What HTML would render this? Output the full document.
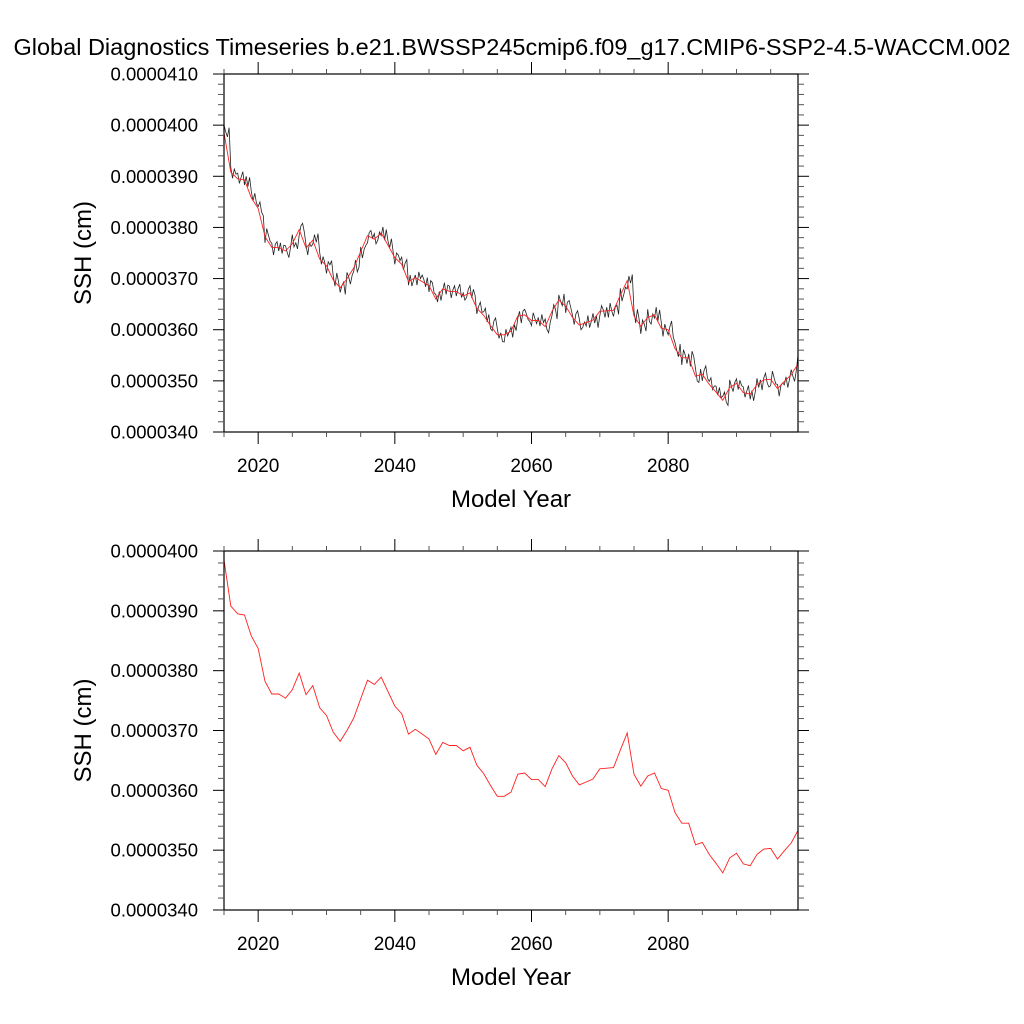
<!DOCTYPE html>
<html><head><meta charset="utf-8">
<style>
html,body{margin:0;padding:0;background:#fff;}
svg{display:block;font-family:"Liberation Sans",Arial,sans-serif;}
</style></head>
<body>
<svg id="chart" width="1024" height="1024" viewBox="0 0 1024 1024">
<text x="512" y="55" font-size="23.5" text-anchor="middle">Global Diagnostics Timeseries b.e21.BWSSP245cmip6.f09_g17.CMIP6-SSP2-4.5-WACCM.002</text>
<g id="top"></g>
<g id="bot"></g>
</svg>
<script>
// Annual mean SSH values (units of 1e-7 cm), years 2015..2099
const years = [];
for (let y = 2015; y <= 2099; y++) years.push(y);
const annualSSH = [398.5,390.8,389.5,389.3,385.8,383.7,378.2,376.1,376.1,375.4,376.8,379.6,376.0,377.5,373.8,372.5,369.7,368.2,370.0,372.1,375.3,378.4,377.7,378.9,376.5,374.1,372.8,369.4,370.2,369.4,368.6,366.0,368.0,367.5,367.5,366.6,367.2,364.2,362.8,360.8,359.0,359.0,359.7,362.7,362.9,361.8,361.8,360.6,363.6,365.8,364.6,362.4,360.9,361.4,361.9,363.6,363.7,363.8,366.7,369.6,362.7,360.7,362.4,362.9,360.3,360.0,356.3,354.5,354.5,350.9,351.3,349.3,347.8,346.2,348.7,349.5,347.7,347.4,349.3,350.2,350.3,348.5,349.9,351.2,353.3];
// Quarterly deviations from the annual mean (units of 1e-7), estimated
const quarterDev = [
1.5,0.2,-0.8,1.0, 0.9,-1.2,0.6,-0.4, 1.1,-0.9,0.3,1.4, -1.0,0.7,-1.3,0.5, 1.2,-0.6,0.9,-1.1, 0.4,1.3,-0.7,-1.4,
-1.2,1.6,0.3,-0.9, 0.8,-1.5,0.6,1.1, -0.7,0.9,-1.2,0.4, 1.0,-0.3,-1.3,0.8, 1.8,-0.6,0.2,-1.0, -1.1,0.7,1.2,-0.5,
0.6,-1.4,0.9,0.3, -0.8,1.1,-0.4,1.3, 1.3,-1.0,0.5,-0.7, -1.5,0.8,0.2,1.0, 0.7,-1.2,1.4,-0.3, -0.9,0.4,1.1,-1.3,
1.2,0.3,-1.1,0.6, -0.6,1.5,-0.8,0.1, 0.9,-1.3,0.4,1.2, -1.4,0.6,1.0,-0.5, 1.1,-0.9,-0.2,1.4, -0.5,1.2,-1.4,0.7,
0.8,-0.4,1.3,-1.2, -1.3,0.9,0.5,-0.6, 1.4,-1.1,0.2,0.9, -0.7,1.3,-0.9,0.3, 0.5,-1.5,1.1,-0.2, 1.3,0.4,-1.0,0.8,
-1.2,1.0,0.6,-1.4, 0.9,-0.6,1.5,-0.3, -0.4,1.2,-1.1,0.7, 1.0,-1.3,0.3,1.1, -0.9,0.5,1.4,-1.2, 0.6,-0.8,-0.3,1.3,
1.4,-1.0,0.7,-0.5, -1.1,0.3,1.2,-0.8, 0.7,1.4,-1.3,0.2, -0.6,-1.0,0.9,1.5, 1.2,-0.7,0.4,-1.3, -1.4,1.1,-0.2,0.6,
0.8,-1.2,1.3,0.1, -0.5,0.9,-1.4,1.0, 1.1,0.2,-0.9,-1.3, -1.0,1.5,0.4,-0.6, 0.6,-1.1,1.2,-0.4, 1.5,-0.5,-1.2,0.9,
-0.8,1.3,0.5,-1.5, 1.0,-0.2,-1.1,1.2, -1.3,0.8,1.1,-0.3, 0.4,-1.4,0.7,1.3, 1.2,-0.9,-0.4,0.6, -0.7,1.4,-1.0,0.2,
1.3,-0.6,0.8,-1.5, -0.9,1.1,0.3,-1.2, 0.7,-1.3,1.5,-0.1, -1.2,0.6,1.0,-0.8, 1.4,-1.1,0.2,1.6, -1.6,0.9,-0.5,1.2,
0.9,-1.4,1.3,-0.6, -1.5,1.2,0.4,-1.0, 1.6,-0.8,-1.3,0.7, -0.6,1.5,-1.2,1.0, 1.1,-1.6,0.8,-0.4, -1.0,0.6,1.7,-1.5,
1.2,-0.3,-1.6,0.9, -1.4,1.6,0.5,-1.1, 0.8,-1.7,1.3,0.2, 1.5,-0.9,-1.2,1.4, -1.3,0.7,1.6,-0.8, 0.6,1.3,-1.0,-0.3,
1.2,-0.6,0.9,-1.1, 0.8,1.6,-0.4,-1.0
];
const topTicks = [340,350,360,370,380,390,400,410];
const topTickLabels = ["0.0000340","0.0000350","0.0000360","0.0000370","0.0000380","0.0000390","0.0000400","0.0000410"];
const botTicks = [340,350,360,370,380,390,400];
const botTickLabels = ["0.0000340","0.0000350","0.0000360","0.0000370","0.0000380","0.0000390","0.0000400"];
const xTicks = [2020,2040,2060,2080];
const xTickLabels = ["2020","2040","2060","2080"];

const NS = "http://www.w3.org/2000/svg";
function mk(parent, tag, attrs){
  const e = document.createElementNS(NS, tag);
  for (const k in attrs) e.setAttribute(k, attrs[k]);
  parent.appendChild(e);
  return e;
}
const X0 = 224, X1 = 798, T0 = 2015, T1 = 2099;
function xs(t){ return X0 + (t - T0) / (T1 - T0) * (X1 - X0); }

function panel(g, top, bottom, ymin, ymax, ticks, labels, drawBlack){
  const ys = v => bottom - (v - ymin) / (ymax - ymin) * (bottom - top);
  if (drawBlack){
    let d = "";
    for (let i = 0; i < annualSSH.length; i++){
      for (let q = 0; q < 4; q++){
        const t = Math.min(years[i] + q * 0.25, T1);
        const v = annualSSH[i] + quarterDev[(i*4+q) % quarterDev.length];
        d += (d ? "L" : "M") + xs(t).toFixed(1) + "," + ys(v).toFixed(1);
      }
    }
    const bl = mk(g, "path", {d: d, fill: "none", stroke: "#222", "stroke-width": 0.8});
    
    
  }
  let d2 = "";
  for (let i = 0; i < annualSSH.length; i++)
    d2 += (i ? "L" : "M") + xs(years[i]).toFixed(1) + "," + ys(annualSSH[i]).toFixed(1);
  const rl = mk(g, "path", {d: d2, fill: "none", stroke: "#ff2020", "stroke-width": 0.9});
  
  
  const fr = mk(g, "rect", {x: X0, y: top, width: X1 - X0, height: bottom - top, fill: "none", stroke: "#000", "stroke-width": 1.2});
  
  
  for (let v = ymin; v <= ymax + 0.01; v += 2){
    const major = Math.abs((v - ymin) % 10) < 0.01;
    const L = major ? 11 : 6;
    const y = ys(v);
    mk(g, "line", {x1: X0 - L, x2: X0, y1: y, y2: y, stroke: major ? "#000" : "#555", "stroke-width": 1});
    mk(g, "line", {x1: X1, x2: X1 + L, y1: y, y2: y, stroke: major ? "#000" : "#555", "stroke-width": 1});
  }
  for (let i = 0; i < ticks.length; i++){
    const t = mk(g, "text", {x: 198, y: ys(ticks[i]) + 6.5, "font-size": 18.5, "text-anchor": "end"});
    t.textContent = labels[i];
    
    
  }
  for (let yr = 2015; yr <= 2095; yr += 5){
    const major = yr % 20 === 0;
    const L = major ? 12 : 5;
    const x = xs(yr);
    mk(g, "line", {x1: x, x2: x, y1: bottom, y2: bottom + L, stroke: major ? "#000" : "#555", "stroke-width": 1});
    mk(g, "line", {x1: x, x2: x, y1: top - L, y2: top, stroke: major ? "#000" : "#555", "stroke-width": 1});
  }
  for (let i = 0; i < xTicks.length; i++){
    const t = mk(g, "text", {x: xs(xTicks[i]), y: bottom + 40, "font-size": 19, "text-anchor": "middle"});
    t.textContent = xTickLabels[i];
    
    
  }
  const xt = mk(g, "text", {x: 511, y: bottom + 75, "font-size": 24, "text-anchor": "middle"});
  xt.textContent = "Model Year";
  
  
  const cy = (top + bottom) / 2;
  const yt = mk(g, "text", {x: 91, y: cy, "font-size": 24, "text-anchor": "middle", transform: "rotate(-90 91 " + cy + ")"});
  yt.textContent = "SSH (cm)";
  
  
}
panel(document.getElementById("top"), 74, 432, 340, 410, topTicks, topTickLabels, true);
panel(document.getElementById("bot"), 551, 910, 340, 400, botTicks, botTickLabels, false);
</script>
</body></html>
